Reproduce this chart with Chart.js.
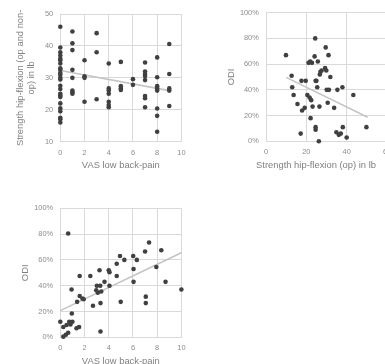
<!DOCTYPE html>
<html>
<head>
<meta charset="utf-8">
<script src="https://cdn.jsdelivr.net/npm/chart.js@4.4.1/dist/chart.umd.min.js"></script>
<style>
  html, body { margin: 0; padding: 0; background: #ffffff; width: 385px; height: 364px; overflow: hidden; }
  .panel { position: absolute; }
</style>
</head>
<body>
<div class="panel" style="left:0px;top:0px;width:192px;height:175px;"><canvas id="c1" width="192" height="175"></canvas></div>
<div class="panel" style="left:192px;top:0px;width:220px;height:175px;"><canvas id="c2" width="220" height="175"></canvas></div>
<div class="panel" style="left:0px;top:180px;width:192px;height:190px;"><canvas id="c3" width="192" height="190"></canvas></div>
<script>
// ---------- Panel 1: VAS low back-pain vs Strength hip-flexion (op and non-op) ----------
const vasA = [
  0,0,0,0,0,0,0,0,0,0,0,0,0,0,0,0,0,0,0,0,0,0,0,0,
  1,1,1,1,1,1,1,1,
  2,2,2,2,
  3,3,3,
  4,4,4,4,4,4,4,
  5,5,5,5,
  6,6,
  7,7,7,7,7,7,7,7,
  8,8,8,8,8,8,8,8,
  9,9,9,9,9
];
const strengthA = [
  46,39.5,38,37,36,35.5,34.5,33,32.5,31.5,31,30,29.5,27.5,26.5,25,24.5,24,22,20.5,19.5,17.5,17,16,
  44.5,40.8,38.7,32.5,30,26,25.5,25,
  35.5,30.5,30,22.5,
  44,38,23.3,
  34.5,26.7,26,25,22.5,21.5,20.8,
  35,27.4,26.7,26.2,
  29.6,27.8,
  34.8,32,31.2,30.6,29.3,24.3,23.6,20.8,
  36.4,30.2,27.4,26.7,26,20.4,18.1,13.1,
  40.6,31.2,26.7,26,21.2
];
const trendAX = [0, 9];
const trendAY = [32.3, 26];

// ---------- Panel 2: Strength hip-flexion (op) vs ODI ----------
const strengthOp = [9.9,12.7,13,13.7,15.6,17.2,17.6,17.9,19.2,19.7,20.5,21.1,21.6,21.9,22.1,22.4,22.8,23.1,24.1,24.4,24.6,24.6,24.6,25,25.4,25.7,26.2,26.5,26.7,27,27.6,29.3,29.6,29.9,30.1,30.6,31,31.2,31.9,33.8,35.4,34.9,36.1,37.1,37.9,38.1,40,43.3,49.8];
const odiB = [67,51,42,36,29,6,47,24,26,47,36,61,34,62,18,32,61,27,66,80,47,11,9,47,42,62,0,27,52,54,55,57,73,55,40,30,67,40,50,26,40,7,5,6,42,11,3,36,11];
const trendBX = [10, 50.4];
const trendBY = [49.7, 18.7];

// ---------- Panel 3: VAS low back-pain vs ODI ----------
const vasC = [0,0.25,0.25,0.46,0.65,0.52,0.65,0.74,0.84,0.93,0.95,1.0,1.34,1.55,1.39,1.6,1.6,1.83,1.93,2.48,2.7,2.97,3.02,3.1,3.24,3.3,3.32,3.32,3.38,3.65,4.0,4.06,4.06,4.66,4.66,4.93,4.99,5.29,6.02,6.05,6.05,6.32,7.0,7.06,7.06,7.33,7.93,8.34,8.69,10];
const odiC = [12,8,0.5,2,3.5,9.5,80.5,12,10,37,18.5,12,7,8,27.5,32,47.5,30,29.5,47.5,24.5,36.5,40,34.5,52,40,4.5,26.5,35.5,43,52,50.5,40,57,47.5,63,27.5,60,63,53,43,60,66.5,31.5,26.5,73.5,54.5,67.5,43,37];
const trendCX = [0, 10];
const trendCY = [20.7, 65.6];

// axis labels
const xTitleA = 'VAS low back-pain';
const yTitleA = ['Strength hip-flexion (op and non-', 'op) in lb'];
const xTitleB = 'Strength hip-flexion (op) in lb';
const yTitleB = 'ODI';
const xTitleC = 'VAS low back-pain';
const yTitleC = 'ODI';

const FONT = '"Liberation Sans", Arial, sans-serif';
const TICK_COLOR = '#8c8c8c';
const TITLE_COLOR = '#7f7f7f';
const GRID = '#d9d9d9';
const POINT = '#404040';
const TREND = '#c4c4c4';

function pts(xs, ys) { return xs.map((x, i) => ({ x: x, y: ys[i] })); }

// draws the x-axis title at a given horizontal centre (used when it is not centred on the plot)
const shiftedXTitle = {
  id: 'shiftedXTitle',
  afterDraw(chart, args, opts) {
    if (!opts || !opts.text) return;
    const ctx = chart.ctx;
    const xs = chart.scales.x;
    ctx.save();
    ctx.font = '9.4px ' + FONT;
    ctx.fillStyle = TITLE_COLOR;
    ctx.textAlign = 'center';
    ctx.textBaseline = 'middle';
    ctx.fillText(opts.text, opts.cx, xs.bottom - opts.fromBottom);
    ctx.restore();
  }
};

function makeChart(id, o) {
  return new Chart(document.getElementById(id), {
    type: 'scatter',
    data: {
      datasets: [
        { data: pts(o.tx, o.ty), type: 'line', showLine: true, borderColor: TREND, borderWidth: 1.6, pointRadius: 0, fill: false, order: 2, clip: false },
        { data: pts(o.xs, o.ys), backgroundColor: POINT, borderWidth: 0, pointRadius: 2.3, order: 1, clip: false }
      ]
    },
    plugins: [shiftedXTitle],
    options: {
      responsive: false,
      animation: false,
      devicePixelRatio: 1,
      layout: { padding: o.pad },
      plugins: {
        legend: { display: false }, tooltip: { enabled: false },
        shiftedXTitle: o.xTitleCx ? { text: o.xTitle, cx: o.xTitleCx, fromBottom: o.xTitlePad + 5.64 } : {}
      },
      scales: {
        x: {
          type: 'linear', min: o.xmin, max: o.xmax,
          ticks: { stepSize: o.xstep, color: TICK_COLOR, padding: 6.5, maxRotation: 0, font: { family: FONT, size: 7.4 } },
          grid: { color: GRID, lineWidth: 1, drawTicks: false },
          border: { color: GRID },
          title: { display: !o.xTitleCx, text: o.xTitle, color: TITLE_COLOR, padding: { top: 0, bottom: o.xTitlePad }, font: { family: FONT, size: 9.4 } },
          afterFit: (s) => { s.height = o.xh; }
        },
        y: {
          type: 'linear', min: o.ymin, max: o.ymax,
          ticks: { stepSize: o.ystep, color: TICK_COLOR, padding: 7.2, font: { family: FONT, size: 7.4 },
                   callback: (v) => o.pct ? v + '%' : v },
          grid: { color: GRID, lineWidth: 1, drawTicks: false },
          border: { color: GRID },
          title: { display: true, text: o.yTitle, color: TITLE_COLOR, padding: { top: o.yTitlePad, bottom: 0 }, font: { family: FONT, size: 9.4 } },
          afterFit: (s) => { s.width = o.yw; }
        }
      }
    }
  });
}

makeChart('c1', {
  xs: vasA, ys: strengthA, tx: trendAX, ty: trendAY,
  xmin: 0, xmax: 10, xstep: 2, ymin: 10, ymax: 50, ystep: 10, pct: false,
  xTitle: xTitleA, yTitle: yTitleA,
  pad: { top: 14, right: 9.3, bottom: 0, left: 0 },
  yw: 60.3, xh: 33.3, yTitlePad: 14.9, xTitlePad: 3.7
});

makeChart('c2', {
  xs: strengthOp, ys: odiB, tx: trendBX, ty: trendBY,
  xmin: 0, xmax: 60, xstep: 20, ymin: 0, ymax: 100, ystep: 20, pct: true,
  xTitle: xTitleB, yTitle: yTitleB, xTitleCx: 124,
  pad: { top: 12.7, right: 25, bottom: 0, left: 0 },
  yw: 74, xh: 33.7, yTitlePad: 34, xTitlePad: 3.7
});

makeChart('c3', {
  xs: vasC, ys: odiC, tx: trendCX, ty: trendCY,
  xmin: 0, xmax: 10, xstep: 2, ymin: 0, ymax: 100, ystep: 20, pct: true,
  xTitle: xTitleC, yTitle: yTitleC,
  pad: { top: 28.3, right: 9.3, bottom: 0, left: 0 },
  yw: 60.3, xh: 32.7, yTitlePad: 19.4, xTitlePad: 2.7
});
</script>
</body>
</html>
